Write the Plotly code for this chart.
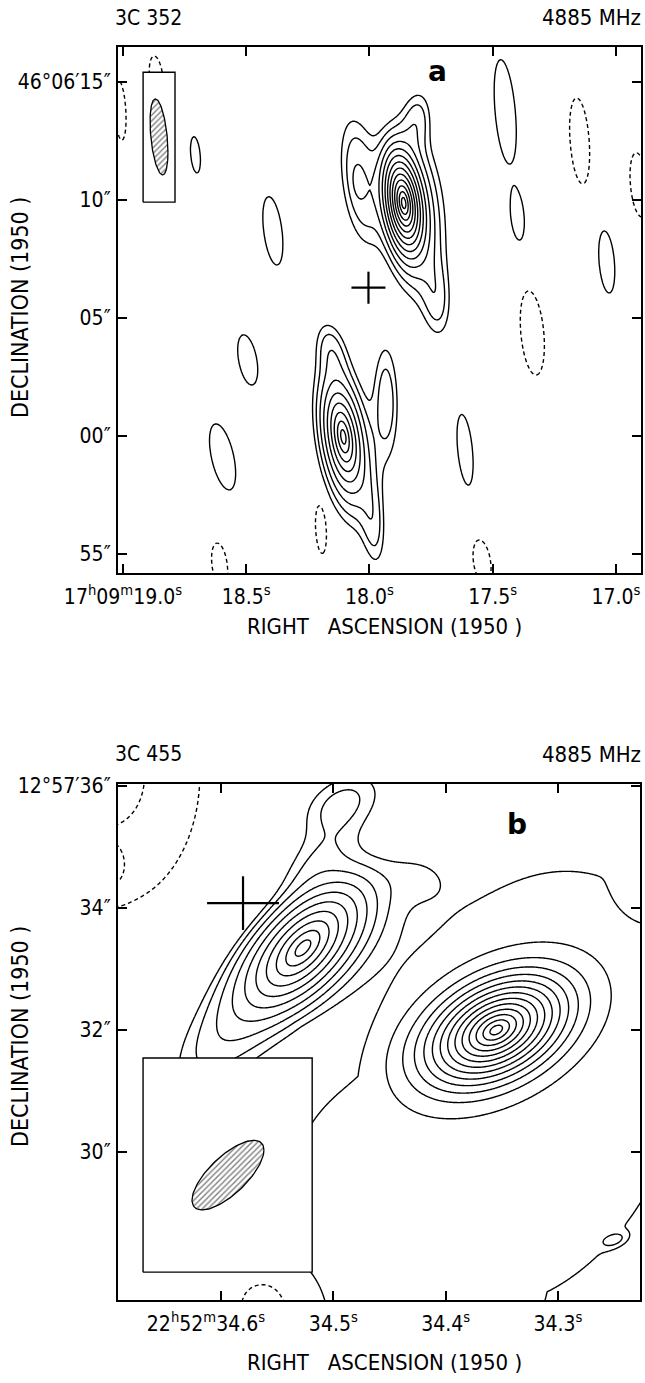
import numpy as np
import plotly.graph_objects as go

W, H = 645, 1383
FONT = "DejaVu Sans Condensed, Liberation Sans Narrow, DejaVu Sans, sans-serif"
NB = "\u00a0"

# ---------------- Panel a : 3C 352 ----------------
# RA: seconds after 17h09m ; Dec: arcsec relative to +46°06'00"
# amplitude in units of the lowest contour, widths (RA s, Dec "), tilt correlation, profile exponent
a_ra   = [17.861, 17.808, 18.041, 18.049, 17.808, 17.727,
          18.106, 18.094, 18.155, 17.931, 17.984,
          19.012, 18.865, 18.706, 18.392, 18.494, 18.596, 18.608, 18.196,
          17.612, 17.543, 17.449, 17.147, 16.906, 17.037, 17.339, 17.400]
a_dec  = [9.87, 9.36, 10.85, 10.72, 13.39, 5.76,
          -0.04, -0.38, 3.64, 1.53, -3.77,
          13.81, 15.17, 11.91, 8.69, 3.22, -0.89, -5.47, -3.86,
          -0.59, -5.34, 13.73, 12.50, 10.64, 7.37, 4.36, 9.36]
a_amp  = [190, 2.2, 2.2, 0.5, 1.4, 1.4,
          34, 2.4, 1.4, 1.9, 1.4,
          -1.45, -1.45, 1.45, 1.45, 1.45, 1.45, -1.45, -1.45,
          1.45, -1.45, 1.45, -1.45, -1.45, 1.45, -1.45, 1.45]
a_sra  = [0.0224, 0.122, 0.0816, 0.0204, 0.057, 0.057,
          0.0286, 0.114, 0.0612, 0.053, 0.049,
          0.0314, 0.0367, 0.0261, 0.0522, 0.0522, 0.068, 0.042, 0.0314,
          0.042, 0.047, 0.0576, 0.0522, 0.047, 0.042, 0.0629, 0.0367]
a_sdec = [0.593, 3.60, 2.75, 0.593, 1.27, 1.69,
          0.805, 3.18, 1.27, 2.54, 1.91,
          1.63, 1.19, 0.98, 1.85, 1.36, 1.79, 1.19, 1.47,
          1.91, 1.19, 2.83, 2.33, 1.74, 1.68, 2.28, 1.36]
a_rho  = [-0.3, -0.2, -0.35, -0.2, 0.2, -0.2,
          -0.35, -0.4, -0.3, -0.1, -0.3,
          -0.3, -0.3, -0.3, -0.4, -0.4, -0.5, -0.3, -0.2,
          -0.4, -0.3, -0.4, -0.3, -0.3, -0.3, -0.3, -0.3]
a_beta = [1, 2, 2, 2, 2, 2,
          1, 2, 2, 2, 2,
          4, 4, 4, 4, 4, 4, 4, 4,
          4, 4, 4, 4, 4, 4, 4, 4]
a_cross = dict(ra=[18.004], dec=[6.28], dra=[0.069], ddec=[0.68])
a_beam = dict(hra=0.0363, hdec=1.61, rho=-0.4)
a_xticks = [19.0, 18.5, 18.0, 17.5, 17.0]
a_xtext = ["17<sup>h</sup>09<sup>m</sup>19.0<sup>s</sup>", "18.5<sup>s</sup>", "18.0<sup>s</sup>",
           "17.5<sup>s</sup>", "17.0<sup>s</sup>"]
a_yticks = [15, 10, 5, 0, -5]
a_ytext = ["46°06′15″", "10″", "05″", "00″", "55″"]
a_nlev, a_ratio = 15, 1.5

# ---------------- Panel b : 3C 455 ----------------
# RA: seconds after 22h52m ; Dec: arcsec after +12°57'
# (profile exponent 6 = broad low plateaus, combined with each other by maximum)
b_ra   = [34.527, 34.355, 34.494, 34.516, 34.601, 34.530, 34.3293, 34.4228, 34.251, 34.426,
          34.6988, 34.697, 34.2198, 34.5546]
b_dec  = [33.344, 32.0, 35.72, 34.79, 31.84, 33.31, 31.02, 28.72, 28.56, 34.55,
          36.18, 34.62, 34.49, 27.50]
b_amp  = [52, 280, 1.75, 1.1, 1.6, 2.5, 1.2, 1.2, 1.25, 0.5,
          -1.61, -0.55, -1.45, -1.6]
b_sra  = [0.0187, 0.01505, 0.0401, 0.0356, 0.0534, 0.0534, 0.195, 0.154, 0.0089, 0.030,
          0.1158, 0.0125, 0.0267, 0.0338]
b_sdec = [0.361, 0.213, 0.574, 0.574, 1.15, 0.90, 4.75, 3.26, 0.098, 0.45,
          3.08, 0.33, 0.574, 0.574]
b_rho  = [0.6, 0.4, 0.4, 0.5, 0.6, 0.6, 0.25, -0.2, 0.4, 0.0,
          0.0, 0.0, 0.0, 0.0]
b_beta = [1, 1, 2, 2, 2, 2, 6, 6, 2, 2,
          2, 2, 4, 4]
b_cross = dict(ra=[34.5804], dec=[34.08], dra=[0.032], ddec=[0.44])
b_beam = dict(hra=0.032, hdec=0.57, rho=0.72)
b_xticks = [34.6, 34.5, 34.4, 34.3]
b_xtext = ["22<sup>h</sup>52<sup>m</sup>34.6<sup>s</sup>" + NB * 5, "34.5<sup>s</sup>", "34.4<sup>s</sup>",
           "34.3<sup>s</sup>"]
b_yticks = [36, 34, 32, 30]
b_ytext = ["12°57′36″", "34″", "32″", "30″"]
b_nlev, b_ratio = 15, 1.5

# ---------------- layout geometry (pixels) ----------------
A_BOX = (118, 641, 47, 573)     # left, right, top, bottom
B_BOX = (118, 640, 784, 1300)
A_XR = [19.0204, 16.898]
A_YR = [-5.81, 16.48]
B_XR = [34.6917, 34.227]
B_YR = [27.574, 36.033]
A_INSET = (0.048, 0.109, 0.705, 0.952)   # axis-domain fractions x0,x1,y0,y1
A_BEAMC = (0.0784, 0.829)
B_INSET = (0.048, 0.372, 0.054, 0.469)
B_BEAMC = (0.2107, 0.242)
LW = 1.4


def model(RA, DEC, ra, dec, amp, sra, sdec, rho, beta):
    f = np.zeros_like(RA)
    plateau = np.zeros_like(RA)
    for r0, d0, A, sx, sy, p, bt in zip(ra, dec, amp, sra, sdec, rho, beta):
        u = (r0 - RA) / sx
        v = (DEC - d0) / sy
        q = (u * u + v * v - 2 * p * u * v) / (1 - p * p)
        g = A * np.exp(-np.power(q, bt / 2.0))
        if bt >= 6:
            plateau = np.maximum(plateau, g)
        else:
            f += g
    return f + plateau


def contour_traces(xr, yr, comps, nlev, ratio, xa, ya, nneg):
    rag = np.linspace(min(xr) - 0.02 * abs(xr[1] - xr[0]), max(xr) + 0.02 * abs(xr[1] - xr[0]), 480)
    deg = np.linspace(min(yr) - 0.02 * (yr[1] - yr[0]), max(yr) + 0.02 * (yr[1] - yr[0]), 480)
    RA, DEC = np.meshgrid(rag, deg)
    f = model(RA, DEC, *comps)
    step = np.log10(ratio)
    zp = np.log10(np.clip(f, 1e-6, None)).astype(np.float32)
    zn = np.log10(np.clip(-f, 1e-6, None)).astype(np.float32)
    pos = go.Contour(x=rag, y=deg, z=zp, autocontour=False,
                     contours=dict(coloring="none", start=0.0, end=step * (nlev - 1) + 1e-6, size=step),
                     line=dict(color="black", width=LW, smoothing=1.0), showscale=False,
                     hoverinfo="skip", xaxis=xa, yaxis=ya)
    neg = go.Contour(x=rag, y=deg, z=zn, autocontour=False,
                     contours=dict(coloring="none", start=0.0, end=step * (nneg - 1) + 1e-6, size=step),
                     line=dict(color="black", width=LW, dash="4px,3px", smoothing=1.0), showscale=False,
                     hoverinfo="skip", xaxis=xa, yaxis=ya)
    return [pos, neg]


def frac_to_data(xr, yr, fx, fy):
    return xr[0] + fx * (xr[1] - xr[0]), yr[0] + fy * (yr[1] - yr[0])


def inset_traces(xr, yr, inset, beamc, beam, xa, ya):
    x0, y0 = frac_to_data(xr, yr, inset[0], inset[2])
    x1, y1 = frac_to_data(xr, yr, inset[1], inset[3])
    box = go.Scatter(x=[x0, x1, x1, x0, x0], y=[y0, y0, y1, y1, y0], mode="lines",
                     fill="toself", fillcolor="white", line=dict(color="black", width=1.4),
                     hoverinfo="skip", showlegend=False, xaxis=xa, yaxis=ya)
    cx, cy = frac_to_data(xr, yr, beamc[0], beamc[1])
    t = np.linspace(0, 2 * np.pi, 121)
    p = beam["rho"]
    ex = cx - beam["hra"] * np.cos(t)
    ey = cy + beam["hdec"] * (p * np.cos(t) + np.sqrt(1 - p * p) * np.sin(t))
    bm = go.Scatter(x=ex, y=ey, mode="lines", fill="toself",
                    fillpattern=dict(shape="/", size=4, solidity=0.35, fgcolor="black", bgcolor="white"),
                    fillcolor="white", line=dict(color="black", width=1.3),
                    hoverinfo="skip", showlegend=False, xaxis=xa, yaxis=ya)
    return [box, bm]


def cross_trace(c, xa, ya):
    return go.Scatter(x=c["ra"], y=c["dec"], mode="markers", marker=dict(size=1, color="black", opacity=0),
                      error_x=dict(type="data", array=c["dra"], width=0, thickness=2.2, color="black"),
                      error_y=dict(type="data", array=c["ddec"], width=0, thickness=2.2, color="black"),
                      hoverinfo="skip", showlegend=False, xaxis=xa, yaxis=ya)


a_comps = (a_ra, a_dec, a_amp, a_sra, a_sdec, a_rho, a_beta)
b_comps = (b_ra, b_dec, b_amp, b_sra, b_sdec, b_rho, b_beta)

traces = []
traces += contour_traces(A_XR, A_YR, a_comps, a_nlev, a_ratio, "x", "y", 1)
traces += inset_traces(A_XR, A_YR, A_INSET, A_BEAMC, a_beam, "x", "y")
traces.append(cross_trace(a_cross, "x", "y"))
traces += contour_traces(B_XR, B_YR, b_comps, b_nlev, b_ratio, "x2", "y2", 2)
traces += inset_traces(B_XR, B_YR, B_INSET, B_BEAMC, b_beam, "x2", "y2")
traces.append(cross_trace(b_cross, "x2", "y2"))

fig = go.Figure(traces)


def xdom(box):
    return [box[0] / W, box[1] / W]


def ydom(box):
    return [1 - box[3] / H, 1 - box[2] / H]


axis_common = dict(showgrid=False, zeroline=False, showline=True, linewidth=2.2, linecolor="black",
                   mirror="ticks", ticks="inside", ticklen=9, tickwidth=1.8, tickcolor="black",
                   automargin=False, tickfont=dict(family=FONT, size=21, color="black"))

fig.update_layout(
    width=W, height=H, margin=dict(l=0, r=0, t=0, b=0, autoexpand=False),
    paper_bgcolor="white", plot_bgcolor="white", showlegend=False,
    xaxis=dict(domain=xdom(A_BOX), range=A_XR, anchor="y", tickvals=a_xticks, ticktext=a_xtext,
               ticklabelstandoff=4, **axis_common),
    yaxis=dict(domain=ydom(A_BOX), range=A_YR, anchor="x", tickvals=a_yticks, ticktext=a_ytext,
               ticklabelstandoff=1, **axis_common),
    xaxis2=dict(domain=xdom(B_BOX), range=B_XR, anchor="y2", tickvals=b_xticks, ticktext=b_xtext,
                ticklabelstandoff=4, **axis_common),
    yaxis2=dict(domain=ydom(B_BOX), range=B_YR, anchor="x2", tickvals=b_yticks, ticktext=b_ytext,
                ticklabelstandoff=1, **axis_common),
)


def ann(text, x, y, size=21, xanchor="center", angle=0, bold=False, family=FONT):
    fig.add_annotation(text=("<b>%s</b>" % text) if bold else text, x=x / W, y=1 - y / H,
                       xref="paper", yref="paper", showarrow=False, xanchor=xanchor, yanchor="middle",
                       textangle=angle, font=dict(family=family, size=size, color="black"))


XTITLE = "RIGHT" + NB * 3 + "ASCENSION" + NB + "(1950" + NB + ")"
YTITLE = "DECLINATION" + NB + "(1950" + NB + ")"

ann("3C 352", 113, 18, xanchor="left")
ann("4885 MHz", 643, 18, size=22, xanchor="right")
ann("a", 437, 72, size=28, bold=True, family="DejaVu Sans, sans-serif")
ann(YTITLE, 20, 308, size=23, angle=-90)
ann(XTITLE, 384, 627, size=22)

ann("3C 455", 113, 754, xanchor="left")
ann("4885 MHz", 643, 754, size=22, xanchor="right")
ann("b", 517, 824, size=28, bold=True, family="DejaVu Sans, sans-serif")
ann(YTITLE, 20, 1037, size=23, angle=-90)
ann(XTITLE, 384, 1362, size=22)

fig.write_html("out.html")
